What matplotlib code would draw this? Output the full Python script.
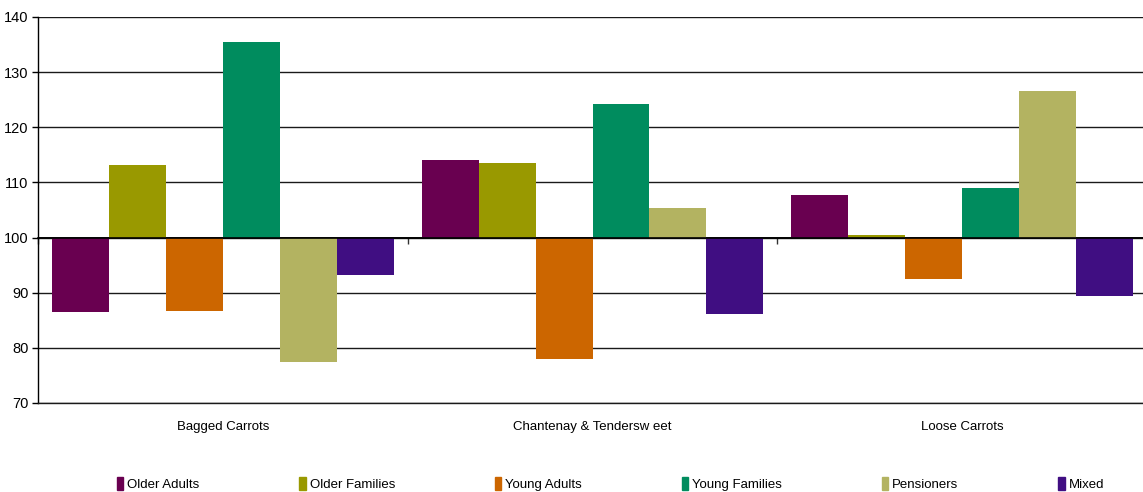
import matplotlib.pyplot as plt
from matplotlib.patches import Rectangle
import numpy as np

plt.rcParams['font.family'] = ['Liberation Sans', 'DejaVu Sans']

categories = ['Bagged Carrots', 'Chantenay & Tendersw eet', 'Loose Carrots']
segments = ['Older Adults', 'Older Families', 'Young Adults', 'Young Families', 'Pensioners', 'Mixed']
older_adults = [86.5, 114.1, 107.8]
older_families = [113.1, 113.6, 100.5]
young_adults = [86.6, 78.0, 92.4]
young_families = [135.5, 124.3, 108.9]
pensioners = [77.4, 105.4, 126.5]
mixed = [93.2, 86.1, 89.4]
series = [older_adults, older_families, young_adults, young_families, pensioners, mixed]
colors = ['#690050', '#999900', '#CC6600', '#008C5E', '#B3B361', '#400E82']

fig = plt.figure(figsize=(11.43, 4.92), dpi=100)
ax = fig.add_axes([38 / 1143, 89 / 492, 1109 / 1143, 386 / 492])

x = np.arange(len(categories)) + 0.5
w = 0.154
for j, (vals, col) in enumerate(zip(series, colors)):
    vals = np.array(vals)
    ax.bar(x + (j - 2.5) * w, vals - 100, bottom=100, width=w, color=col,
           label=segments[j], zorder=2, linewidth=0)

ax.set_xlim(0, 3)
ax.set_ylim(70, 140)
ax.set_yticks(range(70, 141, 10))
ax.yaxis.grid(True, color='#1a1a1a', linewidth=1.0, zorder=0)
ax.set_axisbelow(True)
ax.axhline(100, color='black', linewidth=1.2, zorder=3)

for s in ['top', 'right']:
    ax.spines[s].set_visible(False)
ax.spines['left'].set_linewidth(1.0)
ax.spines['bottom'].set_color('#1a1a1a')
ax.spines['bottom'].set_linewidth(1.0)
ax.tick_params(axis='y', length=4, width=1, labelsize=10.5, pad=3)

ax.set_xticks(x)
ax.set_xticklabels(categories, fontsize=9.5)
ax.tick_params(axis='x', length=0, pad=13)

sec = ax.secondary_xaxis(30 / 70)
sec.set_xticks([0, 1, 2, 3])
sec.set_xticklabels([])
sec.tick_params(axis='x', length=4, width=1, color='#333333')
sec.spines['bottom'].set_linewidth(1.2)

handles = [Rectangle((0, 0), 1, 1, color=c) for c in colors]
fig.legend(handles, segments, loc='center', bbox_to_anchor=(0.534, 0.016), ncol=6,
           frameon=False, fontsize=9.5, handlelength=0.5, handleheight=1.1,
           handletextpad=0.3, columnspacing=7.55, borderpad=0, borderaxespad=0)

fig.savefig('out.png', dpi=100)
